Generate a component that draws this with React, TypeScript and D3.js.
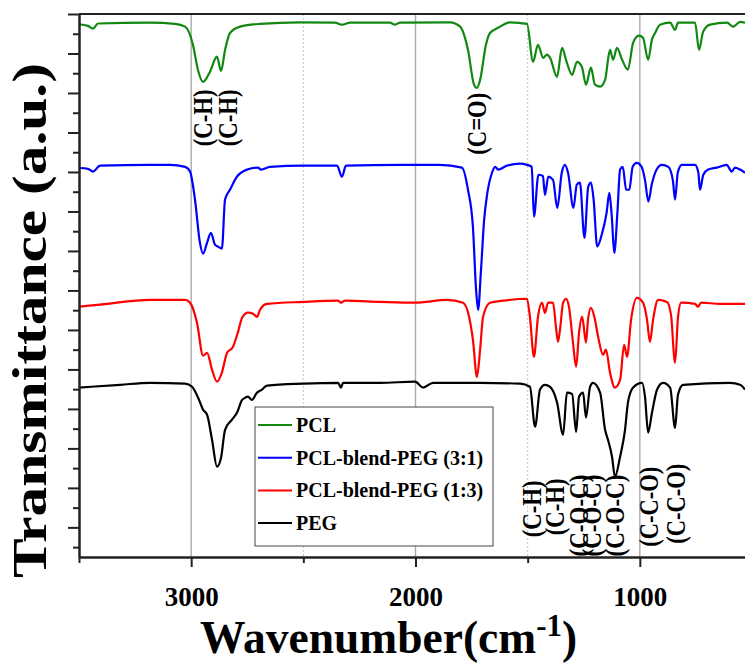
import React, { useEffect, useRef } from "react";
import * as d3 from "d3";

// FTIR spectra: wavenumber (cm-1) vs transmittance (a.u., stacked with offsets)
const seriesNames = ["PCL", "PCL-blend-PEG (3:1)", "PCL-blend-PEG (1:3)", "PEG"];
const seriesColors = ["#118811", "#0000ff", "#ff0000", "#000000"];

const pcl: [number, number][] = [
  [3500, 127.4], [3460, 127.0], [3438, 126.3], [3415, 127.6], [3183, 127.8], [3072, 127.5],
  [3027, 126.8], [2992, 122.2], [2970, 115.9], [2947, 112.8], [2916, 115.4], [2885, 119.2],
  [2867, 115.6], [2849, 120.9], [2827, 125.2], [2782, 126.8], [2693, 127.5], [2515, 127.9],
  [2359, 127.8], [2328, 127.3], [2292, 127.8], [2114, 127.8], [2091, 127.3], [2069, 127.8],
  [1846, 127.9], [1801, 126.8], [1766, 120.9], [1739, 112.1], [1726, 111.3], [1712, 113.3],
  [1686, 122.2], [1668, 125.2], [1632, 126.5], [1579, 127.9], [1503, 127.5], [1476, 117.9],
  [1454, 122.2], [1431, 118.9], [1414, 119.7], [1400, 118.9], [1369, 114.1], [1347, 121.4],
  [1325, 117.6], [1302, 114.6], [1280, 117.9], [1258, 116.6], [1240, 112.1], [1218, 116.4],
  [1200, 112.1], [1177, 111.6], [1155, 113.3], [1133, 120.9], [1119, 118.4], [1102, 121.4],
  [1079, 118.4], [1053, 115.9], [1030, 122.7], [1004, 124.5], [986, 124.0], [963, 118.4],
  [946, 123.5], [932, 125.2], [910, 127.3], [865, 127.8], [843, 126.0], [830, 127.8],
  [754, 127.8], [736, 120.9], [718, 125.5], [687, 127.3], [611, 127.8], [584, 126.8],
  [553, 128.0], [531, 127.8],
];

const blend31: [number, number][] = [
  [3500, 91.0], [3460, 90.8], [3438, 90.1], [3406, 91.6], [3183, 91.8], [3094, 91.8],
  [3027, 91.3], [3005, 90.1], [2983, 83.0], [2961, 72.1], [2947, 69.3], [2929, 72.1],
  [2912, 74.6], [2894, 71.6], [2880, 71.1], [2863, 70.6], [2849, 83.0], [2827, 85.5],
  [2796, 88.8], [2751, 90.6], [2702, 91.1], [2689, 90.6], [2649, 91.3], [2501, 91.6],
  [2350, 91.6], [2328, 88.8], [2310, 91.6], [2069, 91.8], [1891, 91.8], [1793, 91.1],
  [1766, 85.5], [1744, 76.1], [1730, 60.2], [1721, 55.1], [1708, 65.2], [1694, 77.9],
  [1681, 84.2], [1659, 89.8], [1645, 91.3], [1632, 90.6], [1592, 91.6], [1534, 92.1],
  [1503, 91.8], [1482, 91.3], [1472, 78.7], [1452, 89.3], [1432, 89.0], [1423, 84.2],
  [1408, 88.8], [1387, 88.0], [1368, 80.9], [1348, 89.8], [1334, 91.8], [1320, 89.8],
  [1296, 80.9], [1281, 86.8], [1267, 87.3], [1247, 73.3], [1230, 86.3], [1218, 87.3],
  [1206, 83.0], [1190, 71.1], [1170, 74.1], [1148, 79.7], [1136, 84.7], [1125, 78.7],
  [1114, 69.5], [1100, 79.7], [1088, 90.6], [1076, 91.3], [1061, 85.5], [1047, 85.5],
  [1032, 91.3], [1014, 92.3], [992, 91.3], [977, 88.0], [962, 82.5], [947, 86.8],
  [925, 90.6], [902, 91.8], [873, 91.3], [853, 88.0], [843, 83.0], [831, 89.8],
  [813, 91.8], [754, 91.8], [739, 89.8], [732, 85.5], [717, 89.3], [695, 90.6],
  [657, 91.1], [613, 91.8], [590, 90.1], [576, 91.1], [553, 90.6], [531, 89.8],
];

const blend13: [number, number][] = [
  [3500, 55.9], [3406, 56.4], [3183, 57.6], [3027, 57.6], [3005, 56.9], [2974, 51.8],
  [2947, 43.5], [2929, 44.2], [2907, 39.9], [2885, 36.9], [2863, 39.2], [2840, 44.2],
  [2814, 45.7], [2791, 49.5], [2773, 53.1], [2747, 54.4], [2724, 54.1], [2707, 53.3],
  [2693, 55.1], [2662, 56.6], [2501, 57.1], [2345, 57.4], [2332, 56.9], [2314, 57.4],
  [2158, 57.1], [2002, 56.9], [1860, 57.6], [1788, 56.9], [1761, 53.3], [1744, 47.5],
  [1726, 38.1], [1712, 45.0], [1699, 53.3], [1668, 56.9], [1610, 57.4], [1503, 57.9],
  [1490, 53.3], [1472, 43.2], [1454, 53.3], [1436, 56.9], [1423, 54.3], [1409, 56.9],
  [1387, 56.9], [1374, 50.8], [1365, 47.0], [1356, 50.0], [1342, 56.9], [1329, 57.9],
  [1316, 55.9], [1298, 46.8], [1284, 40.7], [1271, 49.3], [1258, 53.3], [1253, 52.1],
  [1240, 46.8], [1231, 52.6], [1218, 55.6], [1200, 52.6], [1186, 48.3], [1164, 43.7],
  [1151, 45.0], [1133, 39.2], [1111, 35.4], [1088, 37.4], [1070, 46.2], [1057, 43.2],
  [1039, 52.6], [1013, 58.1], [986, 56.9], [968, 52.6], [955, 47.0], [941, 52.6],
  [919, 57.6], [879, 57.1], [861, 53.8], [843, 41.7], [830, 53.1], [816, 56.9],
  [754, 56.6], [741, 55.9], [727, 56.9], [643, 56.6], [531, 56.6],
];

const peg: [number, number][] = [
  [3500, 35.4], [3317, 36.1], [3183, 36.6], [3027, 36.4], [2996, 35.6], [2965, 32.3],
  [2947, 29.8], [2929, 28.5], [2907, 22.2], [2885, 15.4], [2867, 17.6], [2849, 24.7],
  [2818, 27.3], [2796, 29.0], [2773, 32.3], [2760, 32.8], [2747, 33.1], [2729, 32.3],
  [2707, 34.1], [2684, 34.9], [2662, 35.9], [2501, 36.4], [2345, 36.6], [2332, 35.4],
  [2323, 36.6], [2158, 36.6], [2002, 36.9], [1966, 35.4], [1922, 36.6], [1712, 36.6],
  [1534, 36.4], [1490, 35.6], [1467, 25.5], [1445, 34.9], [1423, 36.1], [1400, 35.6],
  [1369, 31.6], [1342, 23.5], [1325, 34.1], [1302, 33.8], [1284, 24.2], [1271, 33.1],
  [1253, 34.1], [1240, 27.8], [1222, 35.6], [1209, 36.6], [1177, 34.1], [1155, 24.7],
  [1142, 22.2], [1124, 17.9], [1111, 12.8], [1088, 17.9], [1066, 24.7], [1053, 31.6],
  [1030, 35.4], [990, 36.6], [977, 33.1], [963, 24.0], [946, 29.0], [923, 34.9],
  [897, 36.6], [865, 35.4], [843, 25.2], [830, 33.6], [807, 36.1], [598, 36.6],
  [553, 36.1], [531, 34.9],
];

const spectra = [pcl, blend31, blend13, peg];

// band assignments: label, wavenumber, transmittance level of the label centre
const bandLabels = ["(C-H)", "(C-H)", "(C=O)", "(C-H)", "(C-H)", "(C-O-C)", "(C-O-C)", "(C-O-C)", "(C-C-O)", "(C-C-O)"];
const bandWavenumbers = [2947, 2836, 1726, 1481, 1379, 1271, 1213, 1111, 959, 839];
const bandLevels = [103.7, 103.7, 102.2, 4.7, 5.2, 3.0, 3.0, 3.0, 5.2, 6.0];

const xMajorTicks = [3000, 2000, 1000];
const xMinorTicks = [3500, 2500, 1500];

export default function App() {
  const ref = useRef<SVGSVGElement>(null);

  useEffect(() => {
    const svg = d3.select(ref.current);
    svg.selectAll("*").remove();

    const w = 745, h = 664;
    const left = 79, top = 14, bottom = 557;
    const serif = "'Liberation Serif', 'Times New Roman', serif";

    const x = d3.scaleLinear().domain([3500, 500]).range([left, 752]);
    const y = d3.scaleLinear().domain([-7.5, 130]).range([bottom, top]);

    svg.append("rect").attr("width", w).attr("height", h).attr("fill", "#fff");

    // grid
    svg.append("g").selectAll("line").data(xMajorTicks).enter().append("line")
      .attr("x1", d => x(d)).attr("x2", d => x(d))
      .attr("y1", top).attr("y2", bottom)
      .attr("stroke", "#ababab").attr("stroke-width", 1.4);
    svg.append("g").selectAll("line").data([2500, 1500]).enter().append("line")
      .attr("x1", d => x(d)).attr("x2", d => x(d))
      .attr("y1", top).attr("y2", bottom)
      .attr("stroke", "#c4c4c4").attr("stroke-width", 1)
      .attr("stroke-dasharray", "2,2");

    svg.append("clipPath").attr("id", "plotclip")
      .append("rect").attr("x", left).attr("y", top).attr("width", w - left).attr("height", bottom - top);

    const line = d3.line<[number, number]>()
      .x(d => x(d[0]))
      .y(d => y(d[1]))
      .curve(d3.curveMonotoneX);

    svg.append("g").attr("clip-path", "url(#plotclip)")
      .selectAll("path").data(spectra).enter().append("path")
      .attr("d", d => line(d))
      .attr("fill", "none")
      .attr("stroke", (d, i) => seriesColors[i])
      .attr("stroke-width", 2.2)
      .attr("stroke-linejoin", "round");

    // band annotations
    const labelLength: Record<string, number> = { "(C-H)": 57, "(C=O)": 62, "(C-O-C)": 82, "(C-C-O)": 80 };
    svg.append("g").selectAll("text").data(bandLabels).enter().append("text")
      .attr("transform", (d, i) => `translate(${x(bandWavenumbers[i])},${y(bandLevels[i])}) rotate(-90)`)
      .attr("text-anchor", "middle")
      .attr("dominant-baseline", "central")
      .attr("textLength", d => labelLength[d])
      .attr("lengthAdjust", "spacingAndGlyphs")
      .attr("font-family", serif)
      .attr("font-weight", "bold")
      .attr("font-size", 27)
      .text(d => d);

    // legend
    const legend = svg.append("g");
    legend.append("rect")
      .attr("x", 255).attr("y", 407).attr("width", 238).attr("height", 139)
      .attr("fill", "#fff").attr("stroke", "#444").attr("stroke-width", 1);
    const item = legend.selectAll("g.item").data(seriesNames).enter().append("g")
      .attr("class", "item")
      .attr("transform", (d, i) => `translate(258,${425 + i * 32.7})`);
    item.append("line").attr("x1", 0).attr("x2", 34)
      .attr("stroke", (d, i) => seriesColors[i]).attr("stroke-width", 2);
    item.append("text").attr("x", 38).attr("y", 7)
      .attr("font-family", serif).attr("font-weight", "bold").attr("font-size", 20)
      .text(d => d);

    // axes
    const yAxisMajor = d3.axisLeft(y).tickValues(d3.range(0, 131, 10)).tickSize(11).tickSizeOuter(0).tickFormat(() => "");
    const yAxisMinor = d3.axisLeft(y).tickValues(d3.range(-5, 130, 10)).tickSize(6).tickSizeOuter(0).tickFormat(() => "");
    [yAxisMajor, yAxisMinor].forEach(a => {
      const g = svg.append("g").attr("transform", `translate(${left},0)`).call(a);
      g.selectAll("line").attr("stroke", "#222").attr("stroke-width", 2);
      g.select(".domain").attr("stroke", "#222").attr("stroke-width", 2);
    });

    const xAxisMinor = d3.axisBottom(x).tickValues(xMinorTicks).tickSize(6).tickSizeOuter(0).tickFormat(() => "");
    const gxm = svg.append("g").attr("transform", `translate(0,${bottom})`).call(xAxisMinor);
    gxm.selectAll("line").attr("stroke", "#222").attr("stroke-width", 2);
    gxm.select(".domain").attr("stroke", "#222").attr("stroke-width", 2);

    const xAxisMajor = d3.axisBottom(x).tickValues(xMajorTicks).tickSize(10).tickSizeOuter(0).tickPadding(20)
      .tickFormat(d3.format("d"));
    const gx = svg.append("g").attr("transform", `translate(0,${bottom})`).call(xAxisMajor);
    gx.selectAll("line").attr("stroke", "#222").attr("stroke-width", 2);
    gx.select(".domain").attr("stroke", "#222").attr("stroke-width", 2);
    gx.selectAll("text").attr("font-family", serif).attr("font-weight", "bold")
      .attr("font-size", 27).attr("fill", "#000");

    // top frame
    svg.append("line").attr("x1", left).attr("x2", w).attr("y1", top).attr("y2", top)
      .attr("stroke", "#222").attr("stroke-width", 2);

    // axis titles
    svg.append("text")
      .attr("transform", `translate(46,${(63 + 578) / 2}) rotate(-90)`)
      .attr("text-anchor", "middle")
      .attr("textLength", 515)
      .attr("lengthAdjust", "spacingAndGlyphs")
      .attr("font-family", serif).attr("font-weight", "bold").attr("font-size", 49)
      .text("Transmittance (a.u.)");

    const xt = svg.append("text")
      .attr("x", 200).attr("y", 653)
      .attr("font-family", serif).attr("font-weight", "bold").attr("font-size", 45.5);
    xt.append("tspan").text("Wavenumber(cm");
    xt.append("tspan").attr("dy", -17).attr("font-size", 31).text("-1");
    xt.append("tspan").attr("dy", 17).text(")");
  }, []);

  return (
    <svg ref={ref} width={745} height={664}
      style={{ position: "absolute", left: 0, top: 0, display: "block" }} />
  );
}
